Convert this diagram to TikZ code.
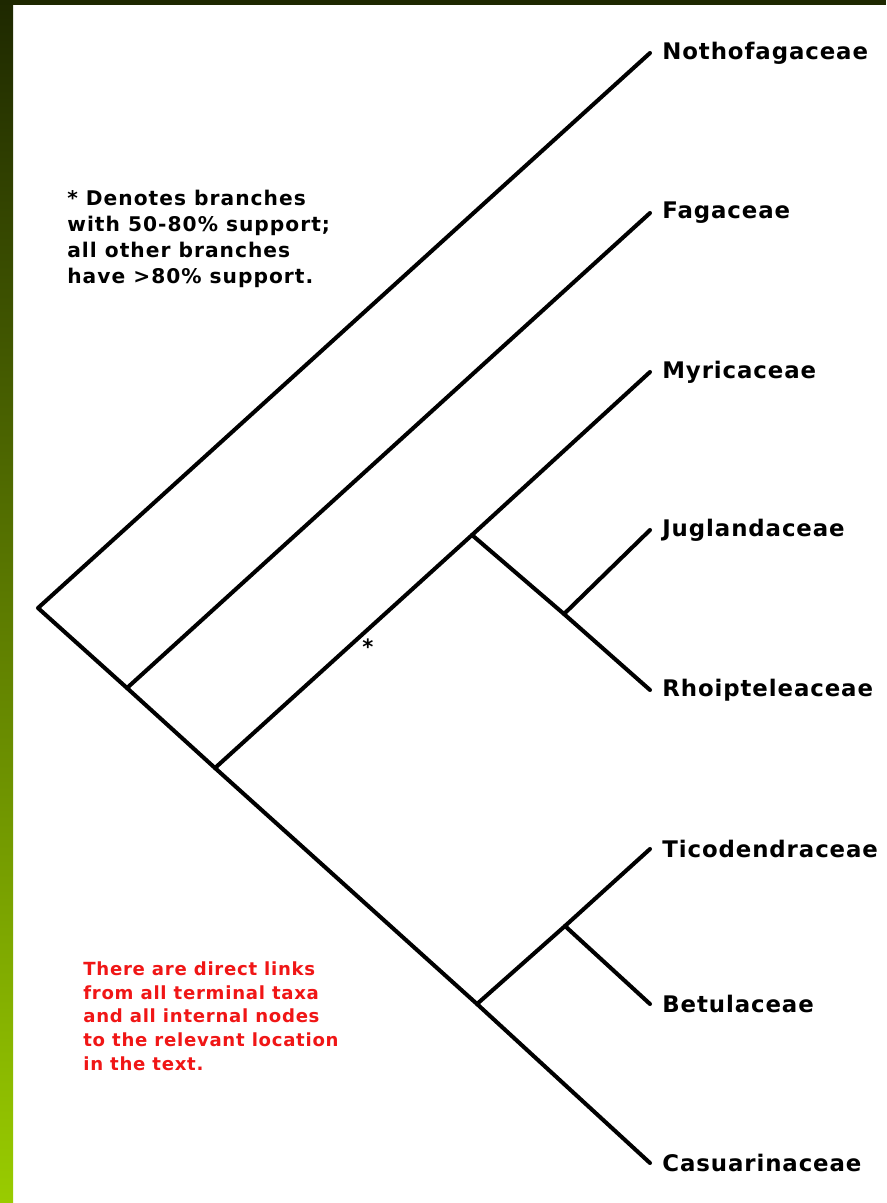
\documentclass[tikz,border=0pt]{standalone}
\usepackage{fontspec}
\setmainfont{DejaVu Sans}
\newfontfamily\taxonfont[LetterSpace=4]{DejaVu Sans}
\newfontfamily\notefont[LetterSpace=5]{DejaVu Sans}
\newfontfamily\linkfont[LetterSpace=4]{DejaVu Sans}
\usetikzlibrary{positioning}
\usepackage{xcolor}
\definecolor{leafdark}{RGB}{30,40,0}
\definecolor{leaflight}{RGB}{153,204,0}
\definecolor{linkred}{RGB}{240,22,22}

\begin{document}
\begin{tikzpicture}[x=0.02cm, y=-0.02cm,
    branch/.style={line width=2.3pt, line cap=round, line join=round},
    taxon/.style={font=\taxonfont\fontsize{13}{15}\selectfont\bfseries,
                  inner sep=0pt, anchor=west},
    note/.style={font=\notefont\fontsize{11.5}{14.7}\selectfont\bfseries,
                 align=left, anchor=north west, inner sep=0pt},
]

% ─── Frame: white page, green bar on the left, dark bar on top ───
\fill[white] (0,0) rectangle (886,1203);
\shade[top color=leafdark, bottom color=leaflight] (0,0) rectangle (13,1203);
\fill[leafdark] (0,0) rectangle (886,5);
\useasboundingbox (0,0) rectangle (886,1203);

% ─── Internal nodes ──────────────────────────────────────────────
\coordinate (root)    at (38,608);
\coordinate (fagnode) at (127,688);
\coordinate (myrnode) at (215,768);
\coordinate (jrmnode) at (472,535);
\coordinate (jrnode)  at (564,614);
\coordinate (betnode) at (477,1004);
\coordinate (tbnode)  at (565,926);

% ─── Terminal taxa ───────────────────────────────────────────────
\coordinate (nothtip) at (650,53);
\coordinate (fagtip)  at (650,213);
\coordinate (myrtip)  at (650,372);
\coordinate (jugtip)  at (650,530);
\coordinate (rhotip)  at (650,690);
\coordinate (tictip)  at (650,849);
\coordinate (bettip)  at (650,1004);
\coordinate (castip)  at (650,1163);

\node[taxon, right=0.24cm of nothtip] (noth) {Nothofagaceae};
\node[taxon, right=0.24cm of fagtip]  (fag)  {Fagaceae};
\node[taxon, right=0.24cm of myrtip]  (myr)  {Myricaceae};
\node[taxon, right=0.24cm of jugtip]  (jug)  {Juglandaceae};
\node[taxon, right=0.24cm of rhotip]  (rho)  {Rhoipteleaceae};
\node[taxon, right=0.24cm of tictip]  (tic)  {Ticodendraceae};
\node[taxon, right=0.24cm of bettip]  (bet)  {Betulaceae};
\node[taxon, right=0.24cm of castip]  (cas)  {Casuarinaceae};

% ─── Branches ────────────────────────────────────────────────────
\draw[branch] (nothtip) -- (root) -- (fagnode) -- (myrnode)
  -- (betnode) -- (castip);
\draw[branch] (fagnode) -- (fagtip);
\draw[branch] (myrnode) -- (jrmnode) -- (myrtip);
\draw[branch] (jrmnode) -- (jrnode) -- (rhotip);
\draw[branch] (jrnode) -- (jugtip);
\draw[branch] (betnode) -- (tbnode) -- (tictip);
\draw[branch] (tbnode) -- (bettip);

% weakly supported branch
\node[font=\fontsize{12}{14}\selectfont\bfseries, inner sep=0pt]
  (weak) at (368,647) {*};

% ─── Notes ───────────────────────────────────────────────────────
\node[note] (support) at (67,190) {%
  * Denotes branches\\
  with 50-80\% support;\\
  all other branches\\
  have >80\% support.};

\node[note, font=\linkfont\fontsize{10.3}{13.6}\selectfont\bfseries, color=linkred]
  (links) at (83,961) {%
  There are direct links\\
  from all terminal taxa\\
  and all internal nodes\\
  to the relevant location\\
  in the text.};

\end{tikzpicture}
\end{document}
